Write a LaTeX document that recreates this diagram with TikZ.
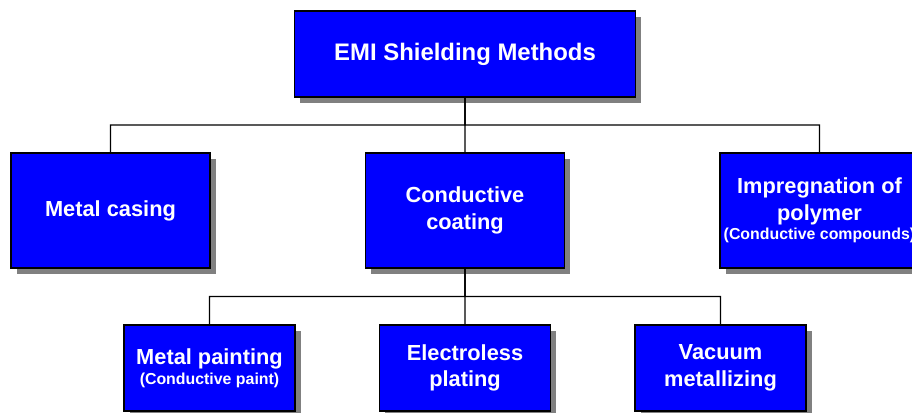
\documentclass[tikz,border=0pt]{standalone}
\usepackage{fontspec}
\setmainfont{Liberation Sans}
\usetikzlibrary{calc,shadows}
\definecolor{boxblue}{RGB}{0,0,255}
\definecolor{shadowgray}{RGB}{128,128,128}
\tikzset{
  method/.style={draw=black,line width=0.8pt,fill=boxblue,text=white,
    align=center,inner sep=2pt,font=\bfseries\fontsize{15.5}{19}\selectfont,
    general shadow={fill=shadowgray,shadow xshift=0.14cm,shadow yshift=-0.14cm}},
  link/.style={line width=0.75pt}
}
\newcommand{\methodnote}[1]{{\fontsize{11.3}{13}\selectfont #1}}

\begin{document}
\begin{tikzpicture}[x=0.025cm,y=-0.025cm,
  rootbox/.style={method,minimum width=8.525cm,minimum height=2.15cm,
    font=\bfseries\fontsize{17}{20}\selectfont},
  levelone/.style={method,minimum width=4.975cm,minimum height=2.875cm},
  leveltwo/.style={method,minimum width=4.275cm,minimum height=2.15cm}
]
  \useasboundingbox (0,0) rectangle (912,413);
  \node[rootbox] (emi) at (465,54) {EMI Shielding Methods};
  \node[levelone] (casing) at (110.5,210.5) {Metal casing};
  \node[levelone] (coating) at (465,210.5) {Conductive\\coating};
  \node[levelone] (impreg) at (819.5,210.5)
    {Impregnation of\\polymer\\[-5pt]\methodnote{(Conductive compounds)}};
  \node[leveltwo] (painting) at (209.5,368)
    {Metal painting\\[-4.5pt]\methodnote{(Conductive paint)}};
  \node[leveltwo] (electroless) at (465,368) {Electroless\\plating};
  \node[leveltwo] (vacuum) at (720.5,368) {Vacuum\\metallizing};
  % tree connectors
  \foreach \child in {casing,coating,impreg}
    \draw[link] (emi.south) -- ($(emi.south)!0.5!(emi.south|-\child.north)$)
      -| (\child.north);
  \foreach \child in {painting,electroless,vacuum}
    \draw[link] (coating.south) -- ($(coating.south)!0.5!(coating.south|-\child.north)$)
      -| (\child.north);
\end{tikzpicture}
\end{document}
